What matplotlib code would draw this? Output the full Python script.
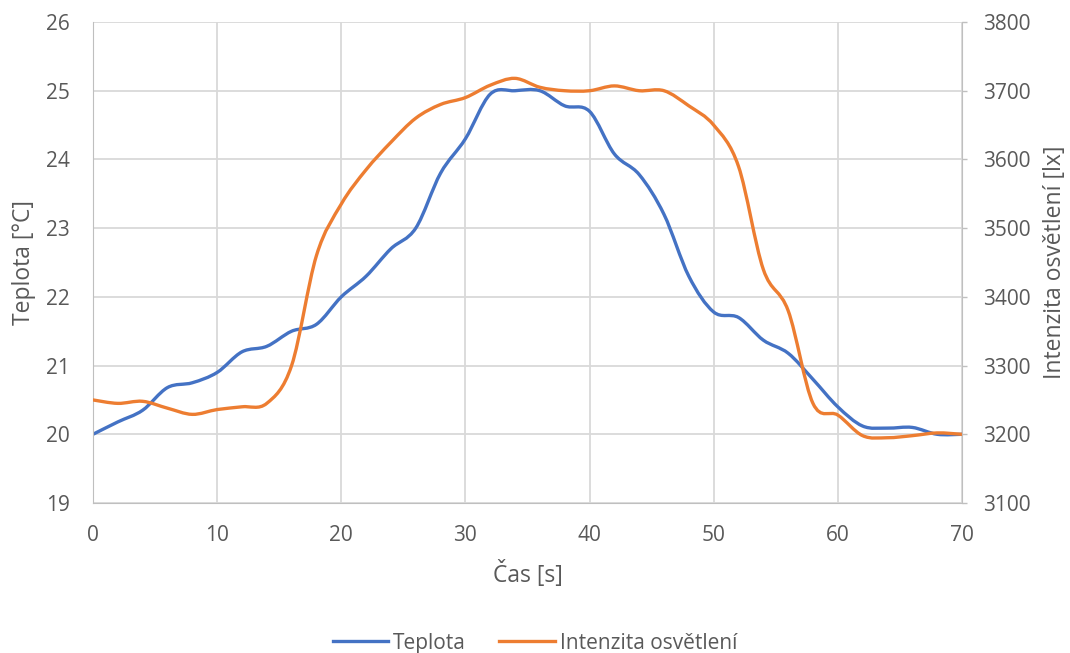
import numpy as np
import matplotlib.pyplot as plt
from matplotlib.path import Path
from matplotlib.patches import PathPatch
from matplotlib.lines import Line2D

plt.rcParams['font.family'] = ['Open Sans', 'DejaVu Sans']

# Time axis [s]
cas = [0, 2, 4, 6, 8, 10, 12, 14, 16, 18, 20, 22, 24, 26, 28, 30, 32, 34,
       36, 38, 40, 42, 44, 46, 48, 50, 52, 54, 56, 58, 60, 62, 64, 66, 68, 70]

# Temperature [°C]
teplota = [20.0, 20.18, 20.35, 20.68, 20.75, 20.9, 21.2, 21.28, 21.5, 21.6,
           22.0, 22.3, 22.7, 23.0, 23.8, 24.3, 24.95, 25.0, 25.0, 24.78,
           24.7, 24.08, 23.78, 23.2, 22.3, 21.78, 21.7, 21.37, 21.18, 20.8,
           20.4, 20.12, 20.09, 20.1, 20.0, 20.0]

# Light intensity [lx]
intenzita = [3250, 3245, 3248, 3238, 3229, 3236, 3240, 3245, 3300, 3460,
             3535, 3585, 3625, 3660, 3680, 3690, 3708, 3718, 3705, 3700,
             3700, 3707, 3700, 3700, 3678, 3650, 3590, 3440, 3380, 3245,
             3228, 3198, 3195, 3198, 3202, 3200]

BLUE = '#4472C4'
ORANGE = '#ED7D31'
GRID = '#D9D9D9'
AXIS = '#BFBFBF'
TEXT = '#595959'


def smooth_path(x, y):
    """Excel-style smoothed line: cubic Bezier through every point."""
    pts = np.column_stack([x, y]).astype(float)
    verts = [pts[0]]
    codes = [Path.MOVETO]
    n = len(pts)
    for i in range(n - 1):
        p0 = pts[i - 1] if i > 0 else pts[i]
        p1 = pts[i]
        p2 = pts[i + 1]
        p3 = pts[i + 2] if i + 2 < n else pts[i + 1]
        c1 = p1 + (p2 - p0) / 6.0
        c2 = p2 - (p3 - p1) / 6.0
        verts += [c1, c2, p2]
        codes += [Path.CURVE4] * 3
    return Path(verts, codes)


fig = plt.figure(figsize=(10.7, 6.53), dpi=100)
ax = fig.add_axes([0.0869, 0.2297, 0.8121, 0.7366])
ax2 = ax.twinx()

ax.set_xlim(0, 70)
ax.set_ylim(19, 26)
ax2.set_ylim(3100, 3800)

ax.set_xticks(range(0, 71, 10))
ax.set_yticks(range(19, 27))
ax2.set_yticks(range(3100, 3801, 100))

ax.grid(True, color=GRID, linewidth=1.3)
ax.set_axisbelow(True)

for a in (ax, ax2):
    for s in a.spines.values():
        s.set_visible(False)

ax.tick_params(length=0, labelsize=15, labelcolor=TEXT)
ax.tick_params(axis='y', pad=16.5)
ax.tick_params(axis='x', pad=16)
ax2.tick_params(axis='y', length=3.6, width=1.0, color=AXIS, direction='out',
                labelsize=15, labelcolor=TEXT, pad=11.5)

ax.spines['left'].set_visible(True)
ax.spines['left'].set_color(AXIS)
ax.spines['bottom'].set_visible(True)
ax.spines['bottom'].set_color(AXIS)
ax2.spines['right'].set_visible(True)
ax2.spines['right'].set_color(AXIS)

ax.add_patch(PathPatch(smooth_path(cas, teplota), fill=False, edgecolor=BLUE,
                       linewidth=2.4, capstyle='round', joinstyle='round'))
ax2.add_patch(PathPatch(smooth_path(cas, intenzita), fill=False, edgecolor=ORANGE,
                        linewidth=2.4, capstyle='round', joinstyle='round'))

ax.set_xlabel('Čas [s]', fontsize=16.5, color=TEXT)
ax.xaxis.set_label_coords(0.5, -0.148)
ax.xaxis.label.set_va('center')

ax.set_ylabel('Teplota [°C]', fontsize=16.5, color=TEXT)
ax.yaxis.set_label_coords(-0.079, 0.5)
ax.yaxis.label.set_va('center')

ax2.set_ylabel('Intenzita osvětlení [lx]', fontsize=16.5, color=TEXT, rotation=90)
ax2.yaxis.set_label_coords(1.107, 0.5)
ax2.yaxis.label.set_va('center')

handles = [Line2D([], [], color=BLUE, linewidth=2.4),
           Line2D([], [], color=ORANGE, linewidth=2.4)]
leg = fig.legend(handles, ['Teplota', 'Intenzita osvětlení'], loc='center',
                 bbox_to_anchor=(0.5, 0.0153), ncol=2, frameon=False,
                 fontsize=15, handlelength=2.65, handletextpad=0.25,
                 columnspacing=1.6, borderpad=0)
for t in leg.get_texts():
    t.set_color(TEXT)

fig.savefig('out.png', dpi=100)
